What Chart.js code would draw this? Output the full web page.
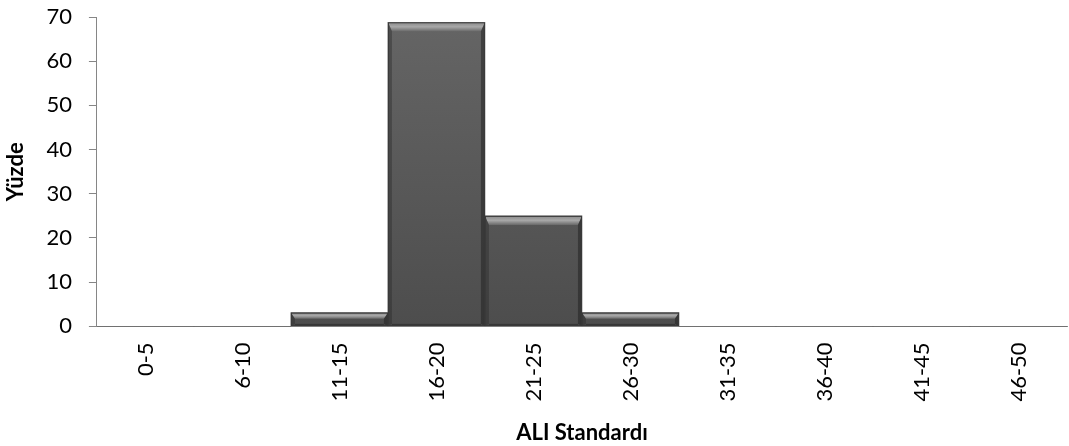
<!DOCTYPE html>
<html>
<head>
<meta charset="utf-8">
<script src="https://cdn.jsdelivr.net/npm/chart.js@4/dist/chart.umd.min.js"></script>
<style>
  html, body { margin: 0; padding: 0; background: #fff; }
  #wrap { width: 1069px; height: 446px; }
</style>
</head>
<body>
<div id="wrap"><canvas id="c" width="1069" height="446"></canvas></div>
<script>
// Score bands on the ALI standard and the share of respondents in each (percent)
const categories = ['0-5', '6-10', '11-15', '16-20', '21-25', '26-30', '31-35', '36-40', '41-45', '46-50'];
const percentages = [0, 0, 3.1, 68.8, 25, 3.1, 0, 0, 0, 0];
const yTicks = [0, 10, 20, 30, 40, 50, 60, 70];

const FONT = 'Lato, "Open Sans", sans-serif';

// Bevelled look for each bar: light top edge, darker sides and bottom
const bevel = {
  id: 'bevel',
  afterDatasetsDraw(chart) {
    const ctx = chart.ctx;
    const meta = chart.getDatasetMeta(0);
    meta.data.forEach((bar, i) => {
      if (!percentages[i]) return;
      const { x, y, base, width } = bar.getProps(['x', 'y', 'base', 'width'], true);
      const l = x - width / 2, r = x + width / 2, t = y, b = base;
      const h = b - t;
      const d = Math.min(9, h / 2.2);
      const s = Math.min(4, width / 6);
      ctx.save();
      // top face
      let g = ctx.createLinearGradient(0, t, 0, t + d);
      g.addColorStop(0, '#8a8a8a');
      g.addColorStop(0.5, '#a8a8a8');
      g.addColorStop(1, '#6a6a6a');
      ctx.fillStyle = g;
      ctx.beginPath();
      ctx.moveTo(l, t); ctx.lineTo(r, t); ctx.lineTo(r - s, t + d); ctx.lineTo(l + s, t + d);
      ctx.closePath(); ctx.fill();
      // left side
      ctx.fillStyle = 'rgba(40,40,40,0.4)';
      ctx.beginPath();
      ctx.moveTo(l, t); ctx.lineTo(l + s, t + d); ctx.lineTo(l + s, b - 2); ctx.lineTo(l, b);
      ctx.closePath(); ctx.fill();
      // right side
      ctx.fillStyle = 'rgba(30,30,30,0.5)';
      ctx.beginPath();
      ctx.moveTo(r, t); ctx.lineTo(r - s, t + d); ctx.lineTo(r - s, b - 2); ctx.lineTo(r, b);
      ctx.closePath(); ctx.fill();
      // bottom edge
      ctx.fillStyle = 'rgba(30,30,30,0.45)';
      ctx.fillRect(l + s, b - 2, width - 2 * s, 2);
      // outline
      ctx.strokeStyle = '#3a3a3a';
      ctx.lineWidth = 1;
      ctx.strokeRect(l + 0.5, t + 0.5, width - 1, h - 1);
      ctx.restore();
    });
  }
};

const ctx = document.getElementById('c').getContext('2d');

new Chart(ctx, {
  type: 'bar',
  data: {
    labels: categories,
    datasets: [{
      data: percentages,
      backgroundColor: (c) => {
        const area = c.chart.chartArea;
        if (!area) return '#575757';
        const g = c.chart.ctx.createLinearGradient(0, area.top, 0, area.bottom);
        g.addColorStop(0, '#656565');
        g.addColorStop(1, '#4d4d4d');
        return g;
      },
      borderWidth: 0,
      categoryPercentage: 1.0,
      barPercentage: 1.0
    }]
  },
  options: {
    responsive: false,
    animation: false,
    devicePixelRatio: 1,
    layout: { padding: { top: 17, right: 2, left: 3, bottom: 0 } },
    plugins: { legend: { display: false }, tooltip: { enabled: false } },
    scales: {
      x: {
        grid: { display: false, drawTicks: false },
        border: { display: true, color: '#868686', width: 1 },
        ticks: {
          color: '#000',
          font: { family: FONT, size: 22 },
          minRotation: 90, maxRotation: 90,
          padding: 16
        },
        title: {
          display: true, text: 'ALI Standardı', color: '#000',
          font: { family: FONT, size: 22, weight: 'bold' },
          padding: { top: 2, bottom: 0 }
        }
      },
      y: {
        min: 0, max: 70,
        afterBuildTicks: (axis) => { axis.ticks = yTicks.map(v => ({ value: v })); },
        afterFit: (axis) => { axis.paddingTop = 0; },
        grid: { drawOnChartArea: false, drawTicks: true, tickLength: 8, color: '#868686' },
        border: { display: true, color: '#868686', width: 1 },
        ticks: {
          color: '#000',
          font: { family: FONT, size: 22 },
          padding: 17
        },
        title: {
          display: true, text: 'Yüzde', color: '#000',
          font: { family: FONT, size: 22, weight: 'bold' },
          padding: { top: 0, bottom: 0 }
        }
      }
    }
  },
  plugins: [bevel]
});
</script>
</body>
</html>
